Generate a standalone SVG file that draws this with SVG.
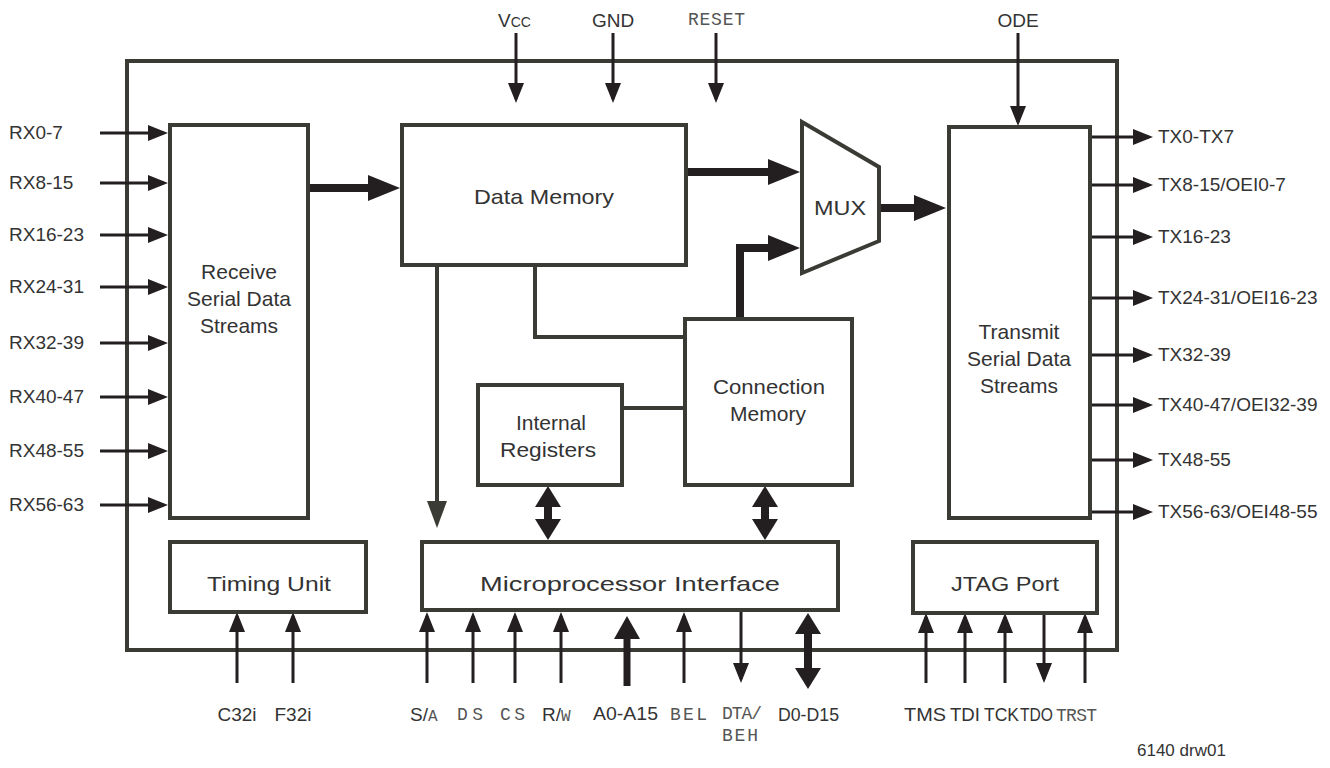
<svg xmlns="http://www.w3.org/2000/svg" width="1330" height="768" viewBox="0 0 1330 768">
<style>
.box{fill:#fff;stroke:#3b3b36;stroke-width:4}
.t{font-family:"Liberation Sans",Arial,sans-serif;fill:#333;font-size:21px;text-anchor:middle}
.l{font-family:"Liberation Sans",Arial,sans-serif;fill:#333;font-size:19px}
.m{font-family:"Liberation Mono","Courier New",monospace;fill:#555;font-size:18px}
.thin{stroke:#231f20;stroke-width:3;fill:none;marker-end:url(#a)}
.thick{stroke:#231f20;stroke-width:8;fill:none;marker-end:url(#b)}
.dbl{stroke:#231f20;stroke-width:8;fill:none;marker-end:url(#c);marker-start:url(#c)}
.wire{stroke:#3b3b36;stroke-width:4;fill:none}
</style>
<defs>
<marker id="a" markerUnits="userSpaceOnUse" markerWidth="20" markerHeight="16" viewBox="0 0 20 16" refX="16" refY="8" orient="auto"><path d="M0,0 L20,8 L0,16 Z" fill="#231f20"/></marker>
<marker id="b" markerUnits="userSpaceOnUse" markerWidth="32" markerHeight="26" viewBox="0 0 32 26" refX="20" refY="13" orient="auto"><path d="M0,0 L32,13 L0,26 Z" fill="#231f20"/></marker>
<marker id="c" markerUnits="userSpaceOnUse" markerWidth="21" markerHeight="26" viewBox="0 0 21 26" refX="11" refY="13" orient="auto-start-reverse"><path d="M0,0 L21,13 L0,26 Z" fill="#231f20"/></marker>
<marker id="g" markerUnits="userSpaceOnUse" markerWidth="27" markerHeight="20" viewBox="0 0 27 20" refX="20" refY="10" orient="auto"><path d="M0,0 L27,10 L0,20 Z" fill="#3b3b36"/></marker>
<marker id="k" markerUnits="userSpaceOnUse" markerWidth="23" markerHeight="26" viewBox="0 0 23 26" refX="13" refY="13" orient="auto"><path d="M0,0 L23,13 L0,26 Z" fill="#231f20"/></marker>
</defs>

<g id="outer"><rect x="127" y="61" width="990" height="589" fill="none" stroke="#3b3b36" stroke-width="4"/></g>

<g id="connectors">
<line class="thin" x1="516" y1="33" x2="516" y2="99"/>
<line class="thin" x1="613" y1="33" x2="613" y2="99"/>
<line class="thin" x1="716" y1="33" x2="716" y2="99"/>
<line class="thin" x1="1018" y1="33" x2="1018" y2="122"/>
<line class="thin" x1="100" y1="133" x2="164" y2="133"/>
<line class="thin" x1="100" y1="183" x2="164" y2="183"/>
<line class="thin" x1="100" y1="235" x2="164" y2="235"/>
<line class="thin" x1="100" y1="287" x2="164" y2="287"/>
<line class="thin" x1="100" y1="343" x2="164" y2="343"/>
<line class="thin" x1="100" y1="397" x2="164" y2="397"/>
<line class="thin" x1="100" y1="451" x2="164" y2="451"/>
<line class="thin" x1="100" y1="505" x2="164" y2="505"/>
<line class="thin" x1="1090" y1="137" x2="1149" y2="137"/>
<line class="thin" x1="1090" y1="185" x2="1149" y2="185"/>
<line class="thin" x1="1090" y1="237" x2="1149" y2="237"/>
<line class="thin" x1="1090" y1="298" x2="1149" y2="298"/>
<line class="thin" x1="1090" y1="355" x2="1149" y2="355"/>
<line class="thin" x1="1090" y1="405" x2="1149" y2="405"/>
<line class="thin" x1="1090" y1="460" x2="1149" y2="460"/>
<line class="thin" x1="1090" y1="512" x2="1149" y2="512"/>
<line class="thick" x1="308" y1="188" x2="388" y2="188"/>
<line class="thick" x1="686" y1="172" x2="788" y2="172"/>
<polyline class="thick" points="740,320 740,248 788,248"/>
<line class="thick" x1="879" y1="208" x2="934" y2="208"/>
<polyline class="wire" points="535,265 535,337 685,337"/>
<line class="wire" x1="622" y1="408" x2="685" y2="408"/>
<line class="wire" x1="437" y1="265" x2="437" y2="521" marker-end="url(#g)"/>
<line class="dbl" x1="548" y1="496" x2="548" y2="530"/>
<line class="dbl" x1="765" y1="496" x2="765" y2="530"/>
<line class="thin" x1="237" y1="683" x2="237" y2="616"/>
<line class="thin" x1="293" y1="683" x2="293" y2="616"/>
<line class="thin" x1="427" y1="683" x2="427" y2="616"/>
<line class="thin" x1="473" y1="683" x2="473" y2="616"/>
<line class="thin" x1="515" y1="683" x2="515" y2="616"/>
<line class="thin" x1="561" y1="683" x2="561" y2="616"/>
<line x1="627" y1="686" x2="627" y2="626" stroke="#231f20" stroke-width="7" marker-end="url(#k)"/>
<line class="thin" x1="684" y1="683" x2="684" y2="616"/>
<line class="thin" x1="741" y1="612" x2="741" y2="679"/>
<line class="dbl" x1="808" y1="623" x2="808" y2="679"/>
<line class="thin" x1="926" y1="683" x2="926" y2="617"/>
<line class="thin" x1="965" y1="683" x2="965" y2="617"/>
<line class="thin" x1="1005" y1="683" x2="1005" y2="617"/>
<line class="thin" x1="1044" y1="613" x2="1044" y2="679"/>
<line class="thin" x1="1085" y1="683" x2="1085" y2="617"/>
</g>

<g id="receive"><rect class="box" x="170" y="125" width="138" height="393"/>
<text class="t" x="239" y="279">Receive</text><text class="t" x="239" y="306">Serial Data</text><text class="t" x="239" y="333">Streams</text></g>

<g id="datamemory"><rect class="box" x="402" y="125" width="284" height="140"/>
<text class="t" x="544" y="204" textLength="140" lengthAdjust="spacingAndGlyphs">Data Memory</text></g>

<g id="mux"><polygon class="box" points="802,122 879,167 879,241 802,273"/>
<text class="t" x="840" y="215" textLength="52" lengthAdjust="spacingAndGlyphs">MUX</text></g>

<g id="transmit"><rect class="box" x="949" y="127" width="141" height="391"/>
<text class="t" x="1019" y="339">Transmit</text><text class="t" x="1019" y="366">Serial Data</text><text class="t" x="1019" y="393">Streams</text></g>

<g id="connectionmemory"><rect class="box" x="685" y="319" width="167" height="166"/>
<text class="t" x="769" y="394" textLength="112" lengthAdjust="spacingAndGlyphs">Connection</text><text class="t" x="768" y="421">Memory</text></g>

<g id="internalregisters"><rect class="box" x="478" y="385" width="144" height="100"/>
<text class="t" x="551" y="430">Internal</text><text class="t" x="548" y="457" textLength="96" lengthAdjust="spacingAndGlyphs">Registers</text></g>

<g id="timing"><rect class="box" x="170" y="542" width="196" height="70"/>
<text class="t" x="269" y="591" textLength="124" lengthAdjust="spacingAndGlyphs">Timing Unit</text></g>

<g id="micro"><rect class="box" x="422" y="542" width="416" height="68"/>
<text class="t" x="630" y="591" textLength="300" lengthAdjust="spacingAndGlyphs">Microprocessor Interface</text></g>

<g id="jtag"><rect class="box" x="913" y="542" width="184" height="71"/>
<text class="t" x="1005" y="591" textLength="108" lengthAdjust="spacingAndGlyphs">JTAG Port</text></g>

<g id="labels">
<text class="l" x="498" y="27">V<tspan font-size="14">CC</tspan></text>
<text class="l" x="613" y="27" text-anchor="middle">GND</text>
<text class="m" x="688" y="25" textLength="57">RESET</text>
<text class="l" x="1018" y="27" text-anchor="middle">ODE</text>

<text class="l" x="9" y="139">RX0-7</text>
<text class="l" x="9" y="189">RX8-15</text>
<text class="l" x="9" y="241">RX16-23</text>
<text class="l" x="9" y="293">RX24-31</text>
<text class="l" x="9" y="349">RX32-39</text>
<text class="l" x="9" y="403">RX40-47</text>
<text class="l" x="9" y="457">RX48-55</text>
<text class="l" x="9" y="511">RX56-63</text>

<text class="l" x="1158" y="143">TX0-TX7</text>
<text class="l" x="1158" y="191">TX8-15/OEI0-7</text>
<text class="l" x="1158" y="243">TX16-23</text>
<text class="l" x="1158" y="304">TX24-31/OEI16-23</text>
<text class="l" x="1158" y="361">TX32-39</text>
<text class="l" x="1158" y="411">TX40-47/OEI32-39</text>
<text class="l" x="1158" y="466">TX48-55</text>
<text class="l" x="1158" y="518">TX56-63/OEI48-55</text>

<text class="l" x="237" y="721" text-anchor="middle">C32i</text>
<text class="l" x="293" y="721" text-anchor="middle">F32i</text>

<text class="l" x="410" y="721">S/<tspan class="m" style="font-size:16px">A</tspan></text>
<text class="m" x="457" y="720" textLength="26">DS</text>
<text class="m" x="500" y="720" textLength="25">CS</text>
<text class="l" x="542" y="721">R/<tspan class="m" style="font-size:16px">W</tspan></text>
<text class="l" x="593" y="720" textLength="65" lengthAdjust="spacingAndGlyphs">A0-A15</text>
<text class="m" x="670" y="720" textLength="37">BEL</text>
<text class="m" x="722" y="719" textLength="40">DTA/</text>
<text class="m" x="722" y="741" textLength="36">BEH</text>
<text class="l" x="778" y="721" textLength="61" lengthAdjust="spacingAndGlyphs">D0-D15</text>

<text class="l" x="904" y="721" textLength="42" lengthAdjust="spacingAndGlyphs">TMS</text>
<text class="l" x="950" y="721" textLength="30" lengthAdjust="spacingAndGlyphs">TDI</text>
<text class="l" x="984" y="721" textLength="35" lengthAdjust="spacingAndGlyphs">TCK</text>
<text class="l" x="1020" y="721" textLength="33" lengthAdjust="spacingAndGlyphs">TDO</text>
<text class="m" x="1056" y="721" textLength="41">TRST</text>

<text class="l" x="1137" y="756" style="font-size:17px">6140 drw01</text>
</g>
</svg>
